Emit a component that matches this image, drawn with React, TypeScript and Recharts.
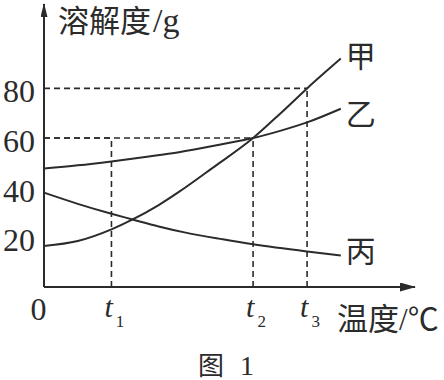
import { LineChart, Line, XAxis, YAxis, ReferenceLine, LabelList } from 'recharts';

// temperature ticks: 0, t1, t2, t3
const tempTicks = [0, 20, 62, 78];
const tempTickSubs = ['', '1', '2', '3'];
const solTicks = [20, 40, 60, 80];

// 甲
const jiaT = [0, 10, 20, 26, 34, 40, 50, 62, 70, 78, 88];
const jiaS = [16.5, 18.5, 23.2, 27.0, 33.0, 38.3, 48.0, 60, 69.8, 80, 92];
// 乙
const yiT = [0, 10, 20, 30, 40, 52, 62, 70, 78, 88];
const yiS = [47.7, 49.0, 50.6, 52.4, 54.3, 57.3, 60, 62.9, 66.3, 71.8];
// 丙
const bingT = [0, 10, 20, 26, 34, 42, 53, 62, 78, 88];
const bingS = [38.0, 33.5, 29.5, 27.3, 24.4, 21.9, 19.2, 17.2, 14.3, 12.7];

const seriesNames = ['甲', '乙', '丙'];

// dashed guides: temperature and solubility
const guideT = [78, 62, 20];
const guideS = [80, 60, 60];

const ink = '#2b2b2b';
const serif = '"Liberation Serif", "DejaVu Serif", serif';
const cjk = '"Noto Sans CJK SC", "Noto Sans CJK JP", sans-serif';

const toRows = (t: number[], s: number[]) => t.map((x, i) => ({ x, y: s[i] }));

const series = [
  { name: seriesNames[0], data: toRows(jiaT, jiaS), dx: 5, dy: 8 },
  { name: seriesNames[1], data: toRows(yiT, yiS), dx: 5, dy: 16 },
  { name: seriesNames[2], data: toRows(bingT, bingS), dx: 5, dy: 7 },
];

const XTick = (props: any) => {
  const { x, y, index } = props;
  if (index === 0) {
    return (
      <text x={x - 5.5} y={y + 33} textAnchor="middle" fontSize={32} fontFamily={serif} fill={ink}>
        0
      </text>
    );
  }
  return (
    <text x={x - 7} y={y + 30} fontSize={30} fontFamily={serif} fill={ink}>
      <tspan fontStyle="italic">t</tspan>
      <tspan dx={3} dy={10} fontSize={17}>{tempTickSubs[index]}</tspan>
    </text>
  );
};

const YTick = (props: any) => {
  const { x, y, payload } = props;
  return (
    <text x={x - 9} y={y + 14} textAnchor="end" fontSize={32} fontFamily={serif} fill={ink}>
      {payload.value}
    </text>
  );
};

const endLabel = (name: string, last: number, dx: number, dy: number) => (props: any) => {
  const { x, y, index } = props;
  if (index !== last) return null;
  return (
    <text x={x + dx} y={y + dy} fontSize={30} fontFamily={cjk} fill={ink}>
      {name}
    </text>
  );
};

export default function App() {
  return (
    <div style={{ position: 'absolute', left: 0, top: 0, width: 444, height: 380, background: '#fff' }}>
      <LineChart width={444} height={380} margin={{ top: 4, right: 29, bottom: 0, left: 0 }}>
        <defs>
          <marker id="arrowX" viewBox="0 0 16 9" markerWidth={16} markerHeight={9} refX={15} refY={4.5}
            orient="auto-start-reverse" markerUnits="userSpaceOnUse">
            <path d="M0,0 L16,4.5 L0,9 Z" fill={ink} />
          </marker>
          <marker id="arrowY" viewBox="0 0 14 7" markerWidth={14} markerHeight={7} refX={13} refY={3.5}
            orient="auto-start-reverse" markerUnits="userSpaceOnUse">
            <path d="M0,0 L14,3.5 L0,7 Z" fill={ink} />
          </marker>
        </defs>
        <XAxis
          type="number"
          dataKey="x"
          domain={[0, 110]}
          ticks={tempTicks}
          tick={<XTick />}
          tickLine={false}
          tickSize={0}
          tickMargin={0}
          height={93}
          axisLine={{ stroke: ink, strokeWidth: 2, markerEnd: 'url(#arrowX)' }}
        />
        <YAxis
          type="number"
          domain={[0, 114]}
          ticks={solTicks}
          tick={<YTick />}
          tickLine={false}
          tickSize={0}
          tickMargin={0}
          width={44}
          axisLine={{ stroke: ink, strokeWidth: 2, markerStart: 'url(#arrowY)' }}
        />
        {guideT.map((t, i) => (
          <ReferenceLine
            key={`h${i}`}
            segment={[{ x: 0, y: guideS[i] }, { x: t, y: guideS[i] }]}
            stroke={ink}
            strokeWidth={1.6}
            strokeDasharray="6 4"
          />
        ))}
        {guideT.map((t, i) => (
          <ReferenceLine
            key={`v${i}`}
            segment={[{ x: t, y: 0 }, { x: t, y: guideS[i] }]}
            stroke={ink}
            strokeWidth={1.6}
            strokeDasharray="6 4"
          />
        ))}
        {series.map((s) => (
          <Line
            key={s.name}
            data={s.data}
            dataKey="y"
            type="monotone"
            stroke={ink}
            strokeWidth={2}
            dot={false}
            activeDot={false}
            isAnimationActive={false}
          >
            <LabelList dataKey="y" content={endLabel(s.name, s.data.length - 1, s.dx, s.dy)} />
          </Line>
        ))}
        <text x={58} y={32} fontSize={31} fontFamily={cjk} fill={ink}>
          溶解度<tspan dx={2} fontFamily={serif} fontSize={34}>/g</tspan>
        </text>
        <text x={337} y={330} fontSize={31} fontFamily={cjk} fill={ink}>
          温度<tspan fontFamily={serif}>/</tspan>℃
        </text>
        <text x={198} y={375} fontSize={26} fontFamily={cjk} fill={ink}>
          图<tspan x={240} fontFamily={serif} fontSize={28}>1</tspan>
        </text>
      </LineChart>
    </div>
  );
}
